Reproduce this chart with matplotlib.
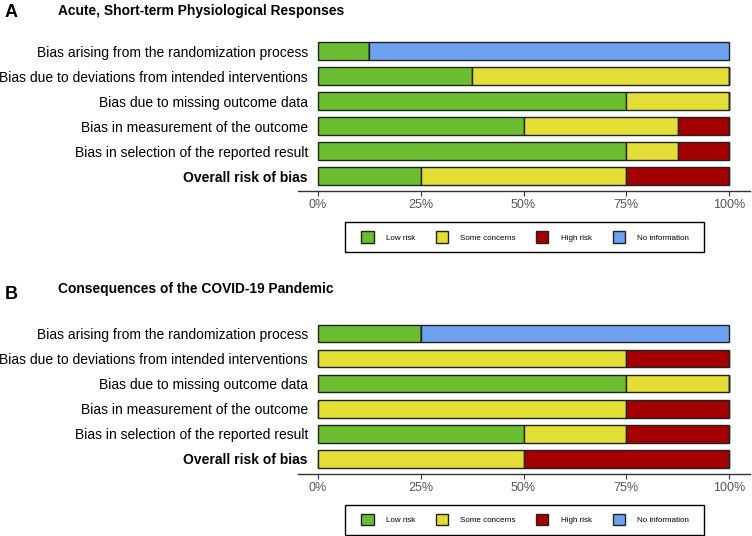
import matplotlib.pyplot as plt
import matplotlib.patches as mpatches
import numpy as np

plt.rcParams['font.family'] = ['Liberation Sans', 'DejaVu Sans']

domains = ["Bias arising from the randomization process",
           "Bias due to deviations from intended interventions",
           "Bias due to missing outcome data",
           "Bias in measurement of the outcome",
           "Bias in selection of the reported result",
           "Overall risk of bias"]
categories = ["Low risk", "Some concerns", "High risk", "No information"]
colors = ["#6BBE2F", "#E2DE35", "#A50000", "#6FA1F1"]
tick_labels = ["0%", "25%", "50%", "75%", "100%"]

# percent of studies per domain: low, some, high, no info
a_low = [12.5, 37.5, 75, 50, 75, 25]
a_some = [0, 62.5, 25, 37.5, 12.5, 50]
a_high = [0, 0, 0, 12.5, 12.5, 25]
a_noinfo = [87.5, 0, 0, 0, 0, 0]

b_low = [25, 0, 75, 0, 50, 0]
b_some = [0, 75, 25, 75, 25, 50]
b_high = [0, 25, 0, 25, 25, 50]
b_noinfo = [75, 0, 0, 0, 0, 0]

W, H = 752, 536
fig = plt.figure(figsize=(W / 100, H / 100), dpi=100)


def px_axes(x0, y0, x1, y1):
    return fig.add_axes([x0 / W, 1 - y1 / H, (x1 - x0) / W, (y1 - y0) / H])


def panel(top, bottom, letter, letter_base, title, title_base, series, leg_y):
    ax = px_axes(297.5, top, 749.5, bottom)
    y = np.arange(len(domains))
    left = np.zeros(len(domains))
    for vals, c in zip(series, colors):
        v = np.array(vals) / 100
        ax.barh(y, v, left=left, height=0.7, color=c, edgecolor="#222222",
                linewidth=1.0)
        left += v
    ax.set_xlim(-0.05, 1.05)
    ax.set_ylim(5.6, -0.6)
    ax.set_yticks(y)
    ax.set_yticklabels(domains, fontsize=10, color="black")
    ax.get_yticklabels()[-1].set_fontweight("bold")
    # labels end ~10px left of the bars, i.e. inside the expanded axis area
    ax.tick_params(axis="y", length=0, pad=-7.5)
    ax.set_xticks([0, 0.25, 0.5, 0.75, 1])
    ax.set_xticklabels(tick_labels, fontsize=9, color="#555555")
    ax.tick_params(axis="x", length=3.5, color="#333333", width=0.8, pad=2)
    for s in ["top", "right", "left"]:
        ax.spines[s].set_visible(False)
    ax.spines["bottom"].set_color("#333333")
    ax.spines["bottom"].set_linewidth(1.0)

    fig.text(5 / W, 1 - letter_base / H, letter, fontsize=13, fontweight="bold",
             va="baseline", ha="left")
    fig.text(58 / W, 1 - title_base / H, title, fontsize=9.9,
             fontweight="bold", va="baseline", ha="left")

    # legend box drawn separately so the padding matches
    fig.patches.append(mpatches.Rectangle((345 / W, 1 - (leg_y + 15) / H),
                                          359 / W, 30 / H, transform=fig.transFigure,
                                          facecolor="white", edgecolor="black",
                                          linewidth=1.0, zorder=1))
    handles = [mpatches.Patch(facecolor=c, edgecolor="#222222", linewidth=1.0,
                              label=lab) for c, lab in zip(colors, categories)]
    leg = fig.legend(handles=handles, ncol=4, loc="center",
                     bbox_to_anchor=(525 / W, 1 - leg_y / H),
                     fontsize=5.8, frameon=False,
                     handlelength=1.5, handleheight=1.9, handletextpad=1.5,
                     columnspacing=2.6, borderpad=0.0)
    leg.set_zorder(3)
    return ax


panel(36, 191, "A", 17, "Acute, Short-term Physiological Responses", 14.5,
      [a_low, a_some, a_high, a_noinfo], 237)
panel(318.5, 474, "B", 299, "Consequences of the COVID-19 Pandemic", 293.5,
      [b_low, b_some, b_high, b_noinfo], 519.5)

fig.savefig("out.png", dpi=100)
